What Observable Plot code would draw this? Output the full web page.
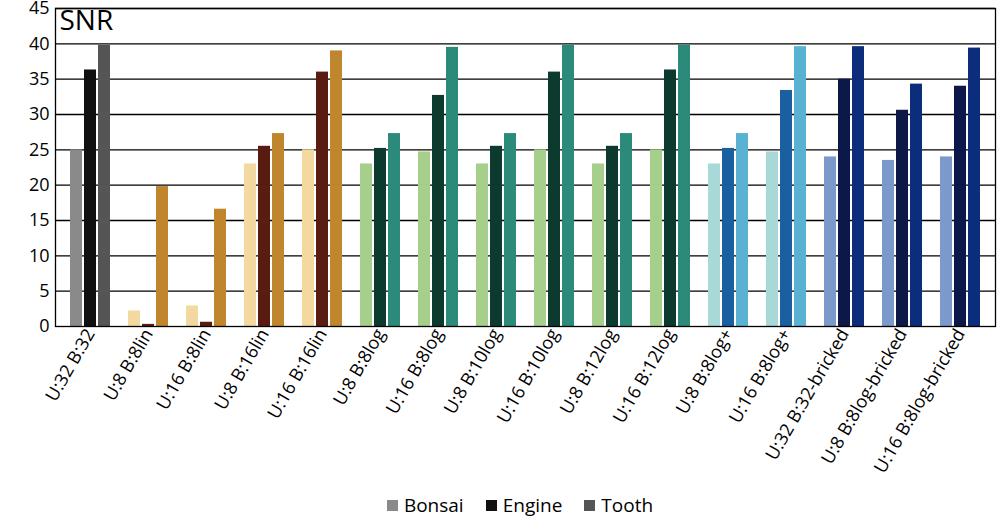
<!DOCTYPE html>
<html><head><meta charset="utf-8">
<script src="https://cdn.jsdelivr.net/npm/d3@7"></script>
<script src="https://cdn.jsdelivr.net/npm/@observablehq/plot@0.6"></script>
<style>
body{margin:0;background:#fff;font-family:"Open Sans",sans-serif}
#legend{display:flex;justify-content:center;gap:22px;font-size:19px;margin-left:40px;margin-top:-6px}
#legend span{display:inline-flex;align-items:center;gap:6px}
#legend i{display:inline-block;width:11px;height:11px}
</style></head>
<body><div id="Chart"></div><div id="legend"></div>
<script>
var groups = ["U:32 B:32","U:8 B:8lin","U:16 B:8lin","U:8 B:16lin","U:16 B:16lin","U:8 B:8log","U:16 B:8log","U:8 B:10log","U:16 B:10log","U:8 B:12log","U:16 B:12log","U:8 B:8log+","U:16 B:8log+","U:32 B:32-bricked","U:8 B:8log-bricked","U:16 B:8log-bricked"];
var series = ["Bonsai","Engine","Tooth"];
var bonsai = [25,2.2,2.9,23,25,23,24.7,23,25,23,25,23,24.7,24,23.5,24];
var engine = [36.3,0.3,0.6,25.5,36,25.2,32.7,25.5,36,25.5,36.3,25.2,33.4,35,30.6,34];
var tooth = [39.8,19.8,16.6,27.3,39,27.3,39.5,27.3,39.8,27.3,39.8,27.3,39.6,39.6,34.3,39.4];

// colour family per group
var family = [0,1,1,1,1,2,2,2,2,2,2,3,3,4,4,4];
var palette = [
  ["#8a8a8a","#111111","#555555"],
  ["#f3d9a0","#5a1c10","#c0862e"],
  ["#a6cf8c","#0c3a2e","#2b8a7a"],
  ["#a9d8d8","#1a5fa0","#5ab2d2"],
  ["#7b9acb","#0b1848","#0c2c7c"]
];

var cols = [bonsai, engine, tooth];
var offsets = [-14, 0, 14];
var barMarks = series.map(function(s, j) {
  var rows = groups.map(function(g, i) {
    return {group: g, value: cols[j][i], color: palette[family[i]][j]};
  });
  return Plot.barY(rows, {x: "group", y: "value", fill: "color", dx: offsets[j], insetLeft: 23, insetRight: 23});
});

var options = {
  width: 1000, height: 498,
  marginTop: 8, marginBottom: 172, marginLeft: 55, marginRight: 5,
  style: {fontFamily: "Open Sans, sans-serif", fontSize: "18px", color: "#000", background: "transparent"},
  x: {domain: groups, padding: 0, label: null, tickRotate: -60, tickSize: 0},
  y: {domain: [0, 45], ticks: d3.range(0, 46, 5), label: null, tickSize: 0, tickPadding: 6},
  marks: [
    Plot.ruleY(d3.range(5, 46, 5), {stroke: "#000", strokeWidth: 1.3}),
    ...barMarks,
    Plot.frame({stroke: "#000", strokeWidth: 1.3}),
    Plot.text(["SNR"], {frameAnchor: "top-left", dx: 4, dy: 2, fontSize: 28}),
    Plot.axisX({tickRotate: -60, tickSize: 0, fontSize: 18, label: null, tickPadding: 4, textAnchor: "end"}),
    Plot.axisY({ticks: d3.range(0, 46, 5), tickSize: 0, tickPadding: 6, fontSize: 18, label: null})
  ]
};
document.getElementById("Chart").append(Plot.plot(options));

var lg = document.getElementById("legend");
series.forEach(function(s, j) {
  lg.innerHTML += '<span><i style="background:' + palette[0][j] + '"></i>' + s + '</span>';
});
</script></body></html>
